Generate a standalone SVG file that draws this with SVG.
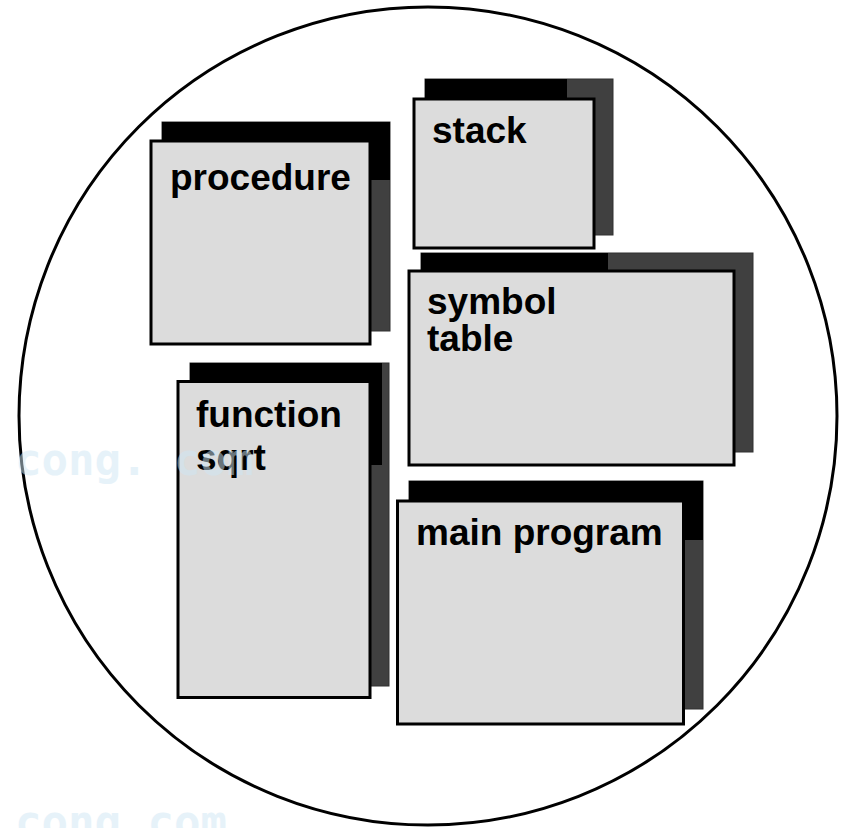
<svg xmlns="http://www.w3.org/2000/svg" width="844" height="828" viewBox="0 0 844 828">
  <style>
    .back { fill: #404040; stroke: #303030; stroke-width: 1; }
    .top { fill: #000000; }
    .front { fill: #dcdcdc; stroke: #000000; stroke-width: 3; }
    .label { font-family: "Liberation Sans", Arial, sans-serif; font-weight: bold; font-size: 37px; fill: #000000; }
    .wm { font-family: "DejaVu Sans Mono", monospace; font-weight: bold; font-size: 44px; fill: #cfe7f5; opacity: 0.5; }
  </style>
  <rect width="844" height="828" fill="#ffffff"/>
  <circle id="boundary" cx="428" cy="416" r="409" fill="none" stroke="#000000" stroke-width="3"/>

  <g id="procedure">
    <rect class="back" x="162" y="122" width="228" height="209"/>
    <rect class="top" x="162" y="122" width="228" height="58"/>
    <rect class="front" x="151" y="141" width="219" height="203"/>
    <text class="label" x="170" y="190">procedure</text>
  </g>

  <g id="stack">
    <rect class="back" x="425" y="79" width="188" height="156"/>
    <rect class="top" x="425" y="79" width="142" height="20"/>
    <rect class="front" x="414" y="99" width="180" height="149"/>
    <text class="label" x="432" y="143">stack</text>
  </g>

  <g id="symbol-table">
    <rect class="back" x="421" y="253" width="332" height="199"/>
    <rect class="top" x="421" y="253" width="187" height="20"/>
    <rect class="front" x="409" y="271" width="325" height="194"/>
    <text class="label" x="427" y="314">symbol</text>
    <text class="label" x="427" y="351">table</text>
  </g>

  <g id="function-sqrt">
    <rect class="back" x="190" y="363" width="199" height="323"/>
    <rect class="top" x="190" y="363" width="192" height="102"/>
    <rect class="front" x="178" y="381.5" width="192" height="316"/>
    <text class="label" x="196" y="427">function</text>
    <text class="label" x="196" y="470">sqrt</text>
  </g>

  <g id="main-program">
    <rect class="back" x="409" y="481" width="294" height="228"/>
    <rect class="top" x="409" y="481" width="294" height="59"/>
    <rect class="front" x="397.5" y="501" width="286" height="223"/>
    <text class="label" x="416" y="545">main program</text>
  </g>

  <g id="connectors"></g>

  <g id="watermark">
    <text class="wm" x="15" y="475">cong. com</text>
    <text class="wm" x="15" y="837">cong  com</text>
  </g>
</svg>
